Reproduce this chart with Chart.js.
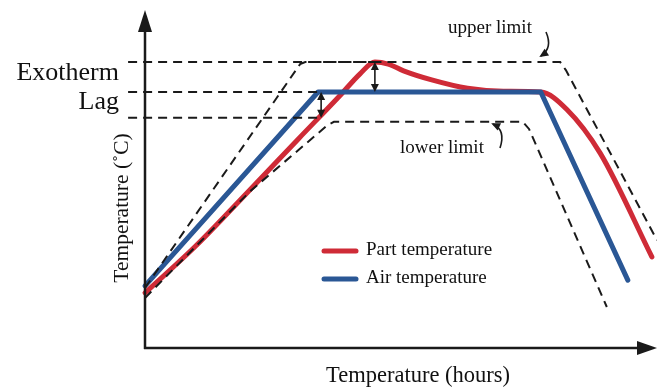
<!DOCTYPE html>
<html>
<head>
<meta charset="utf-8">
<script src="https://cdn.jsdelivr.net/npm/chart.js@4/dist/chart.umd.min.js"></script>
<style>
  html, body { margin: 0; padding: 0; background: #fff; }
  #wrap { width: 657px; height: 389px; position: relative; }
</style>
</head>
<body>
<div id="wrap"><canvas id="c" width="657" height="389"></canvas></div>
<script>
// ---- Data (axis units: % of axis span) ----
const airX  = [0, 33.8, 77.3, 94.3];
const airY  = [18.5, 76.2, 76.2, 20.2];

const partX = [0, 10, 20, 30, 38, 42, 44.9, 47.5, 50.5, 56, 63, 70, 77.3, 82.4, 88.9, 99.0];
const partY = [16.4, 30.5, 46.3, 62.3, 75.0, 81.6, 85.1, 84.5, 82.5, 79.8, 77.3, 76.4, 76.2, 71.0, 58.0, 27.1];

const upperX = [0, 30.3, 31.3, 81.1, 82.2, 100];
const upperY = [17.9, 84.5, 85.1, 85.1, 82.7, 32.1];

const lowerX = [0, 20.5, 35.7, 36.9, 73.8, 75.0, 90.2];
const lowerY = [14.9, 46.6, 66.4, 67.3, 67.3, 65.2, 12.2];

// guide levels
const guideStartX = -3.3;
const exothermLevel = 85.1, exothermEndX = 44.9;
const lagLevel = 76.2, lagEndX = 33.8;
const lagLowLevel = 68.5, lagLowEndX = 34.4;

const seriesLabels = ['Part temperature', 'Air temperature'];
const axisTitles = { x: 'Temperature (hours)', y: 'Temperature (\u02DAC)' };

const RED = '#cf2b37', BLUE = '#2a5795', INK = '#1a1a1a';
const SERIF = '"Liberation Serif", "DejaVu Serif", serif';

const pts = (xs, ys) => xs.map((x, i) => ({ x, y: ys[i] }));
const dashDs = (data) => ({ data, borderColor: INK, borderWidth: 2, borderDash: [9, 6], pointRadius: 0, showLine: true, fill: false, tension: 0, clip: false });

const overlay = {
  id: 'overlay',
  afterDatasetsDraw(chart) {
    const ctx = chart.ctx, xs = chart.scales.x, ys = chart.scales.y, a = chart.chartArea;
    const X = v => xs.getPixelForValue(v), Y = v => ys.getPixelForValue(v);
    ctx.save();
    // axes
    ctx.strokeStyle = INK; ctx.fillStyle = INK; ctx.lineWidth = 2.5; ctx.lineCap = 'butt';
    const ox = X(0), oy = Y(0);
    ctx.beginPath(); ctx.moveTo(ox, oy + 1); ctx.lineTo(ox, a.top + 16); ctx.stroke();
    ctx.beginPath(); ctx.moveTo(ox - 1, oy); ctx.lineTo(a.right - 14, oy); ctx.stroke();
    ctx.beginPath(); ctx.moveTo(ox, a.top - 2); ctx.lineTo(ox - 7, a.top + 20); ctx.lineTo(ox + 7, a.top + 20); ctx.closePath(); ctx.fill();
    ctx.beginPath(); ctx.moveTo(a.right, oy); ctx.lineTo(a.right - 20, oy - 7); ctx.lineTo(a.right - 20, oy + 7); ctx.closePath(); ctx.fill();

    // double-headed arrows
    function dbl(x, y1, y2) {
      const px = X(x), p1 = Y(y1), p2 = Y(y2);
      ctx.lineWidth = 1.6;
      ctx.beginPath(); ctx.moveTo(px, p1 + 3); ctx.lineTo(px, p2 - 3); ctx.stroke();
      ctx.beginPath(); ctx.moveTo(px, p1); ctx.lineTo(px - 4, p1 + 8); ctx.lineTo(px + 4, p1 + 8); ctx.closePath(); ctx.fill();
      ctx.beginPath(); ctx.moveTo(px, p2); ctx.lineTo(px - 4, p2 - 8); ctx.lineTo(px + 4, p2 - 8); ctx.closePath(); ctx.fill();
    }
    dbl(lagLowEndX, lagLevel, lagLowLevel);
    dbl(exothermEndX, exothermLevel, lagLevel);

    // curved pointer arrows
    function curved(sx, sy, cx, cy, ex, ey) {
      ctx.lineWidth = 1.6;
      ctx.beginPath(); ctx.moveTo(sx, sy); ctx.quadraticCurveTo(cx, cy, ex, ey); ctx.stroke();
      const ang = Math.atan2(ey - cy, ex - cx);
      ctx.beginPath();
      ctx.moveTo(ex + 2 * Math.cos(ang), ey + 2 * Math.sin(ang));
      ctx.lineTo(ex - 7 * Math.cos(ang) + 4 * Math.sin(ang), ey - 7 * Math.sin(ang) - 4 * Math.cos(ang));
      ctx.lineTo(ex - 7 * Math.cos(ang) - 4 * Math.sin(ang), ey - 7 * Math.sin(ang) + 4 * Math.cos(ang));
      ctx.closePath(); ctx.fill();
    }
    curved(546, 32, 553, 48, 541, 56);
    curved(500, 148, 506, 130, 493, 124);

    // texts
    ctx.fillStyle = '#111';
    ctx.textBaseline = 'alphabetic';
    ctx.font = '26px ' + SERIF; ctx.textAlign = 'right';
    ctx.fillText('Exotherm', 119, 80);
    ctx.fillText('Lag', 119, 109);
    ctx.font = '19px ' + SERIF; ctx.textAlign = 'left';
    ctx.fillText('upper limit', 448, 33);
    ctx.fillText('lower limit', 400, 153);

    // legend
    const legend = [[seriesLabels[0], RED, 251], [seriesLabels[1], BLUE, 279]];
    legend.forEach(([t, c, y]) => {
      ctx.strokeStyle = c; ctx.lineWidth = 5; ctx.lineCap = 'round';
      ctx.beginPath(); ctx.moveTo(324, y); ctx.lineTo(356, y); ctx.stroke();
      ctx.fillStyle = '#111'; ctx.font = '19px ' + SERIF; ctx.textAlign = 'left'; ctx.textBaseline = 'middle';
      ctx.fillText(t, 366, y - 1);
    });

    // axis titles
    ctx.textAlign = 'center'; ctx.textBaseline = 'alphabetic';
    ctx.font = '22.5px ' + SERIF;
    ctx.fillText(axisTitles.x, 418, 382);
    ctx.font = '21.5px ' + SERIF;
    ctx.translate(128, 208); ctx.rotate(-Math.PI / 2);
    ctx.fillText(axisTitles.y, 0, 0);
    ctx.restore();
  }
};

new Chart(document.getElementById('c'), {
  type: 'scatter',
  data: {
    datasets: [
      dashDs(pts([guideStartX, exothermEndX], [exothermLevel, exothermLevel])),
      dashDs(pts([guideStartX, lagEndX], [lagLevel, lagLevel])),
      dashDs(pts([guideStartX, lagLowEndX], [lagLowLevel, lagLowLevel])),
      dashDs(pts(upperX, upperY)),
      dashDs(pts(lowerX, lowerY)),
      { label: seriesLabels[1], data: pts(airX, airY), borderColor: BLUE, borderWidth: 5, pointRadius: 0, showLine: true, tension: 0, clip: false, borderJoinStyle: 'round', borderCapStyle: 'round' },
      { label: seriesLabels[0], data: pts(partX, partY), borderColor: RED, borderWidth: 5, pointRadius: 0, showLine: true, cubicInterpolationMode: 'monotone', clip: false, borderCapStyle: 'round', borderJoinStyle: 'round' }
    ]
  },
  options: {
    responsive: false,
    animation: false,
    layout: { padding: { left: 145, right: 0, top: 12, bottom: 41 } },
    plugins: { legend: { display: false }, tooltip: { enabled: false } },
    scales: {
      x: { type: 'linear', min: 0, max: 100, display: false },
      y: { type: 'linear', min: 0, max: 100, display: false }
    }
  },
  plugins: [overlay]
});
</script>
</body>
</html>
